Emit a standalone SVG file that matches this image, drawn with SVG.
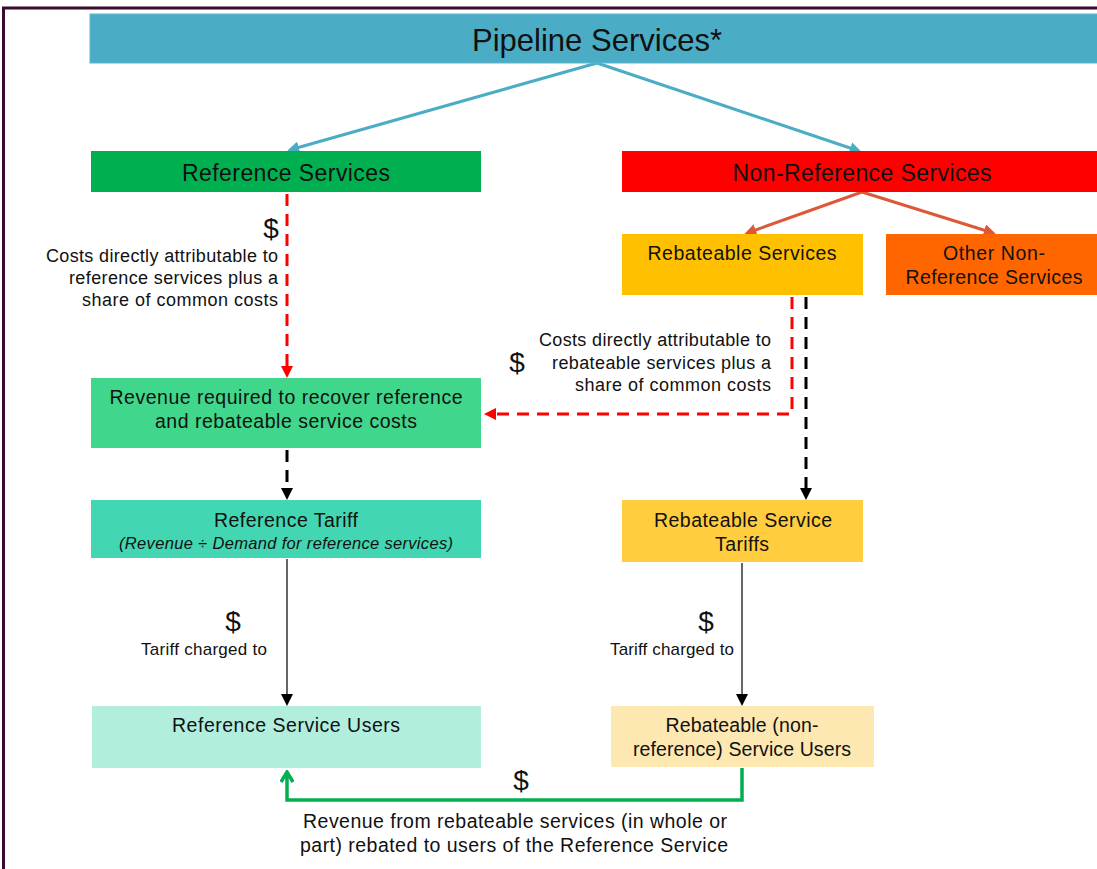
<svg xmlns="http://www.w3.org/2000/svg" width="1097" height="869" viewBox="0 0 1097 869">
<style>
text{font-family:"Liberation Sans",Arial,sans-serif;fill:#111;}
.c{text-anchor:middle;}
.r{text-anchor:end;}
.lbl{font-size:18px;}
.b{font-size:19.5px;}
.d{font-size:28px;}
</style>
<defs>
<marker id="ab" markerWidth="12" markerHeight="12" refX="6" refY="6" orient="auto" markerUnits="userSpaceOnUse" viewBox="0 0 12 12"><path d="M0,0 L12,6 L0,12 z" fill="#4BACC6"/></marker>
<marker id="ao" markerWidth="12" markerHeight="12" refX="6" refY="6" orient="auto" markerUnits="userSpaceOnUse" viewBox="0 0 12 12"><path d="M0,0 L12,6 L0,12 z" fill="#DE5838"/></marker>
<marker id="ar" markerWidth="12" markerHeight="12" refX="6" refY="6" orient="auto" markerUnits="userSpaceOnUse" viewBox="0 0 12 12"><path d="M0,0 L12,6 L0,12 z" fill="#FF0000"/></marker>
<marker id="ak" markerWidth="12" markerHeight="12" refX="6" refY="6" orient="auto" markerUnits="userSpaceOnUse" viewBox="0 0 12 12"><path d="M0,0 L12,6 L0,12 z" fill="#000"/></marker>
<marker id="ag" markerWidth="14" markerHeight="14" refX="12" refY="7" orient="auto" markerUnits="userSpaceOnUse" viewBox="0 0 14 14"><path d="M2,1 L12,7 L2,13" fill="none" stroke="#00B050" stroke-width="3.5"/></marker>
</defs>
<rect width="1097" height="869" fill="#fff"/>
<path d="M3.5,869 V8 H1097" fill="none" stroke="#3A0B30" stroke-width="3"/>

<g id="connectors" fill="none">
<path d="M597,63 L293,149" stroke="#4BACC6" stroke-width="3" marker-end="url(#ab)"/>
<path d="M597,63 L856,150" stroke="#4BACC6" stroke-width="3" marker-end="url(#ab)"/>
<path d="M862,192 L750,232" stroke="#DE5838" stroke-width="3" marker-end="url(#ao)"/>
<path d="M862,192 L990,232" stroke="#DE5838" stroke-width="3" marker-end="url(#ao)"/>
<path d="M287,194 V372" stroke="#FF0000" stroke-width="3" stroke-dasharray="12,8" marker-end="url(#ar)"/>
<path d="M792,297 V414 H490" stroke="#FF0000" stroke-width="3" stroke-dasharray="12,8" marker-end="url(#ar)"/>
<path d="M806,297 V494" stroke="#000" stroke-width="3" stroke-dasharray="12,8" marker-end="url(#ak)"/>
<path d="M287,450 V494" stroke="#000" stroke-width="3" stroke-dasharray="12,8" marker-end="url(#ak)"/>
<path d="M287,559 V700" stroke="#000" stroke-width="1.2" marker-end="url(#ak)"/>
<path d="M742,563 V700" stroke="#000" stroke-width="1.2" marker-end="url(#ak)"/>
<path d="M742,768 V800 H287 V772" stroke="#00B050" stroke-width="3.5" marker-end="url(#ag)"/>
</g>

<g id="pipeline"><rect x="90" y="14" width="1010" height="49" fill="#4BACC6" stroke="#5FB8D0" stroke-width="1"/><text x="597" y="51" class="c" font-size="32" textLength="250" lengthAdjust="spacingAndGlyphs">Pipeline Services*</text></g>
<g id="reference-services"><rect x="91" y="151" width="390" height="41" fill="#00B050"/><text x="286" y="181" class="c" font-size="23" textLength="208">Reference Services</text></g>
<g id="non-reference-services"><rect x="622" y="151" width="480" height="41" fill="#FF0000"/><text x="862" y="181" class="c" font-size="23" textLength="259">Non-Reference Services</text></g>
<g id="rebateable-services"><rect x="622" y="234" width="241" height="61" fill="#FFC000"/><text x="742" y="260" class="c b" textLength="189">Rebateable Services</text></g>
<g id="other-non-reference"><rect x="886" y="234" width="215" height="61" fill="#FF6600"/><text x="994" y="260" class="c b" textLength="102">Other Non-</text><text x="994" y="284" class="c b" textLength="177">Reference Services</text></g>
<g id="revenue-required"><rect x="91" y="378" width="390" height="70" fill="#40D68B"/><text x="286" y="404" class="c b" textLength="353">Revenue required to recover reference</text><text x="286" y="428" class="c b" textLength="262">and rebateable service costs</text></g>
<g id="reference-tariff"><rect x="91" y="500" width="390" height="58" fill="#42D6B2"/><text x="286" y="527" class="c b" textLength="144">Reference Tariff</text><text x="286" y="549" class="c" font-size="16.5" font-style="italic" textLength="334">(Revenue ÷ Demand for reference services)</text></g>
<g id="rebateable-tariffs"><rect x="622" y="500" width="241" height="62" fill="#FFCD3D"/><text x="743" y="527" class="c b" textLength="178">Rebateable Service</text><text x="742" y="551" class="c b" textLength="54">Tariffs</text></g>
<g id="reference-users"><rect x="92" y="706" width="389" height="62" fill="#B2EEDD"/><text x="286" y="732" class="c b" textLength="228">Reference Service Users</text></g>
<g id="rebateable-users"><rect x="611" y="706" width="263" height="61" fill="#FEE8B2"/><text x="742" y="732" class="c b" textLength="153">Rebateable (non-</text><text x="742" y="756" class="c b" textLength="218">reference) Service Users</text></g>

<g id="labels">
<text x="271" y="238" class="c d">$</text>
<text x="278" y="262" class="r lbl" textLength="232">Costs directly attributable to</text>
<text x="278" y="284" class="r lbl" textLength="209">reference services plus a</text>
<text x="278" y="306" class="r lbl" textLength="196">share of common costs</text>
<text x="517" y="372" class="c d">$</text>
<text x="771" y="346" class="r lbl" textLength="232">Costs directly attributable to</text>
<text x="771" y="369" class="r lbl" textLength="219">rebateable services plus a</text>
<text x="771" y="391" class="r lbl" textLength="196">share of common costs</text>
<text x="233" y="631" class="c d">$</text>
<text x="204" y="655" class="c" font-size="17" textLength="126">Tariff charged to</text>
<text x="706" y="631" class="c d">$</text>
<text x="672" y="655" class="c" font-size="17" textLength="124">Tariff charged to</text>
<text x="521" y="790" class="c d">$</text>
<text x="515" y="828" class="c b" textLength="424">Revenue from rebateable services (in whole or</text>
<text x="514" y="852" class="c b" textLength="428">part) rebated to users of the Reference Service</text>
</g>
</svg>
